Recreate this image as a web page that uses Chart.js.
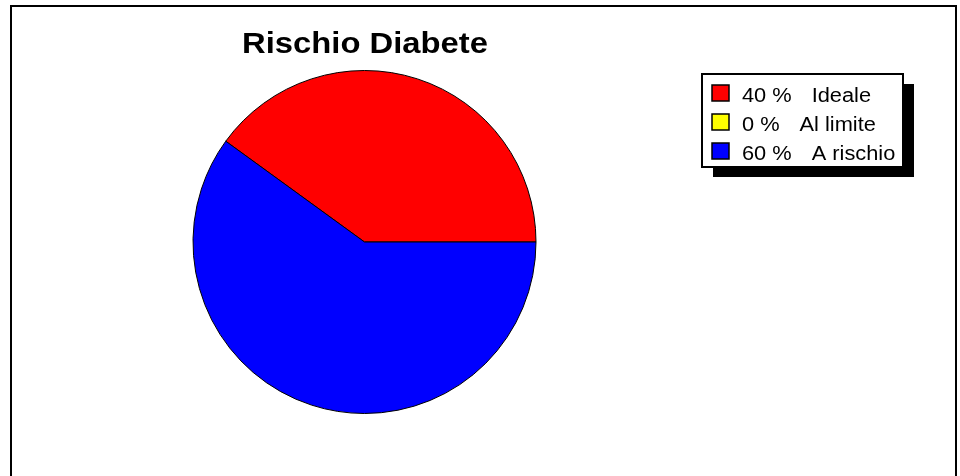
<!DOCTYPE html>
<html>
<head>
<meta charset="utf-8">
<script src="https://cdn.jsdelivr.net/npm/chart.js@4"></script>
<style>
  html, body { margin: 0; padding: 0; background: #fff; }
  #wrap { width: 960px; height: 476px; }
</style>
</head>
<body>
<div id="wrap"><canvas id="pie" width="960" height="476"></canvas></div>
<script>
const titleText = 'Rischio Diabete';
const labels = ['Ideale', 'Al limite', 'A rischio'];
const values = [40, 0, 60];
const colors = ['#ff0000', '#ffff00', '#0000ff'];

// text in this chart is slightly wide, so it is drawn with a horizontal stretch
function wideText(ctx, str, x, y, sx) {
  ctx.save();
  ctx.translate(x, y);
  ctx.scale(sx, 1);
  ctx.fillText(str, 0, 0);
  const w = ctx.measureText(str).width * sx;
  ctx.restore();
  return w;
}

// border, title and the boxed legend with its drop shadow
const decor = {
  id: 'decor',
  afterDraw(chart) {
    const ctx = chart.ctx;
    ctx.save();

    ctx.strokeStyle = '#000';
    ctx.lineWidth = 2;
    ctx.strokeRect(11, 6, 945, 480);

    ctx.fillStyle = '#000';
    ctx.font = 'bold 29px "Liberation Sans", Arial, sans-serif';
    ctx.textAlign = 'center';
    ctx.textBaseline = 'alphabetic';
    wideText(ctx, titleText, 365, 53, 1.13);

    const bx = 702, by = 74, bw = 201, bh = 93;
    ctx.fillRect(bx + 11, by + 10, bw, bh);
    ctx.fillStyle = '#fff';
    ctx.fillRect(bx, by, bw, bh);
    ctx.strokeRect(bx, by, bw, bh);

    ctx.font = '20px "Liberation Sans", Arial, sans-serif';
    ctx.textAlign = 'left';
    labels.forEach((lab, i) => {
      const cy = 93 + i * 29;
      ctx.fillStyle = colors[i];
      ctx.fillRect(712, cy - 8, 17, 16);
      ctx.lineWidth = 1.5;
      ctx.strokeStyle = '#000';
      ctx.strokeRect(712, cy - 8, 17, 16);
      ctx.fillStyle = '#000';
      const w = wideText(ctx, values[i] + ' %', 742, cy + 9, 1.09);
      wideText(ctx, lab, 742 + w + 20, cy + 9, 1.09);
    });
    ctx.restore();
  }
};

new Chart(document.getElementById('pie'), {
  type: 'pie',
  data: {
    labels: labels,
    datasets: [{
      data: values,
      backgroundColor: colors,
      borderColor: '#000',
      borderWidth: 1
    }]
  },
  options: {
    responsive: false,
    animation: false,
    rotation: -54,
    layout: { padding: { top: 70, bottom: 62, left: 192, right: 423 } },
    plugins: {
      legend: { display: false },
      tooltip: { enabled: false }
    }
  },
  plugins: [decor]
});
</script>
</body>
</html>
